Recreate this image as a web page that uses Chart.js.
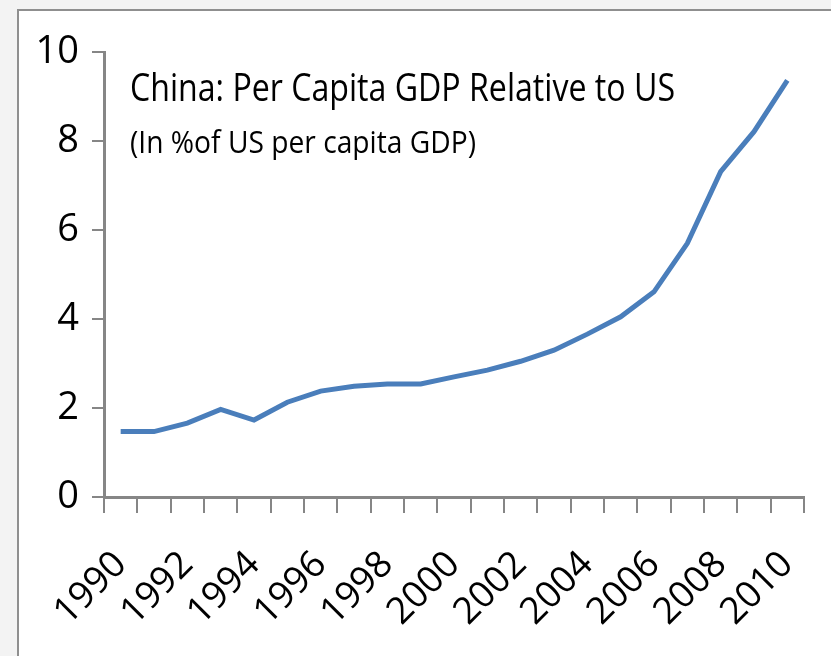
<!DOCTYPE html>
<html>
<head>
<meta charset="utf-8">
<script src="https://cdn.jsdelivr.net/npm/chart.js@4"></script>
<style>
  html, body { margin: 0; padding: 0; width: 831px; height: 656px; overflow: hidden; background: #f3f3f3; }
  .frame { position: absolute; left: 17px; top: 9px; width: 840px; height: 680px; background: #fff; border: 2px solid #8f8f8f; }
  #wrap { position: absolute; left: 0; top: 0; width: 831px; height: 656px; }
</style>
</head>
<body>
<div class="frame"></div>
<div id="wrap"><canvas id="chart-china"></canvas></div>
<script>
const FONT = "'Open Sans', 'Noto Sans', sans-serif";

const TITLE = "China: Per Capita GDP Relative to US";
const SUBTITLE = "(In %of US per capita GDP)";

const years = [
  "1990", "1991", "1992", "1993", "1994", "1995", "1996", "1997", "1998", "1999", "2000",
  "2001", "2002", "2003", "2004", "2005", "2006", "2007", "2008", "2009", "2010",
];
const gdpRatio = [
  1.47, 1.47, 1.66, 1.97, 1.73, 2.13, 2.38, 2.49, 2.54, 2.54, 2.70,
  2.85, 3.05, 3.30, 3.66, 4.05, 4.61, 5.70, 7.31, 8.21, 9.36,
];
const yMin = 0;
const yMax = 10;
const yStep = 2;

// title sits inside the plot, Excel style
const insetTitle = {
  id: "insetTitle",
  afterDatasetsDraw(chart) {
    const { ctx, chartArea } = chart;
    ctx.save();
    ctx.fillStyle = "#000";
    ctx.textBaseline = "alphabetic";
    ctx.textAlign = "left";
    ctx.font = "38px " + FONT;
    ctx.fillText(TITLE, chartArea.left + 26, chartArea.top + 49, 545);
    ctx.font = "31px " + FONT;
    ctx.fillText(SUBTITLE, chartArea.left + 26, chartArea.top + 101, 346);
    ctx.restore();
  },
};

new Chart(document.getElementById("chart-china"), {
  type: "line",
  data: {
    labels: years,
    datasets: [{
      data: gdpRatio,
      borderColor: "#4a7ebb",
      borderWidth: 5,
      pointRadius: 0,
      tension: 0,
    }],
  },
  options: {
    responsive: true,
    maintainAspectRatio: false,
    animation: false,
    layout: { padding: { top: 52, right: 27, left: 0, bottom: 0 } },
    plugins: {
      legend: { display: false },
      tooltip: { enabled: false },
    },
    scales: {
      x: {
        offset: true,
        afterFit: (s) => {
          s.height = 159;
          s.paddingLeft = 0;
          s.paddingRight = 0;
        },
        grid: {
          offset: true,
          drawOnChartArea: false,
          drawTicks: true,
          tickLength: 16,
          color: "#868686",
          lineWidth: 2,
        },
        border: { color: "#868686", width: 3 },
        ticks: {
          autoSkip: false,
          maxRotation: 45,
          minRotation: 45,
          padding: 30,
          color: "#000",
          font: { family: FONT, size: 37 },
          callback: (v, i) => (i % 2 === 0 ? years[i] : ""),
        },
      },
      y: {
        min: yMin,
        max: yMax,
        afterFit: (s) => {
          s.width = 104;
          s.paddingTop = 0;
          s.paddingBottom = 0;
        },
        grid: {
          drawOnChartArea: false,
          drawTicks: true,
          tickLength: 12,
          color: "#868686",
          lineWidth: 2,
        },
        border: { color: "#868686", width: 3 },
        ticks: {
          stepSize: yStep,
          padding: 13,
          color: "#000",
          font: { family: FONT, size: 38 },
        },
      },
    },
  },
  plugins: [insetTitle],
});
</script>
</body>
</html>
